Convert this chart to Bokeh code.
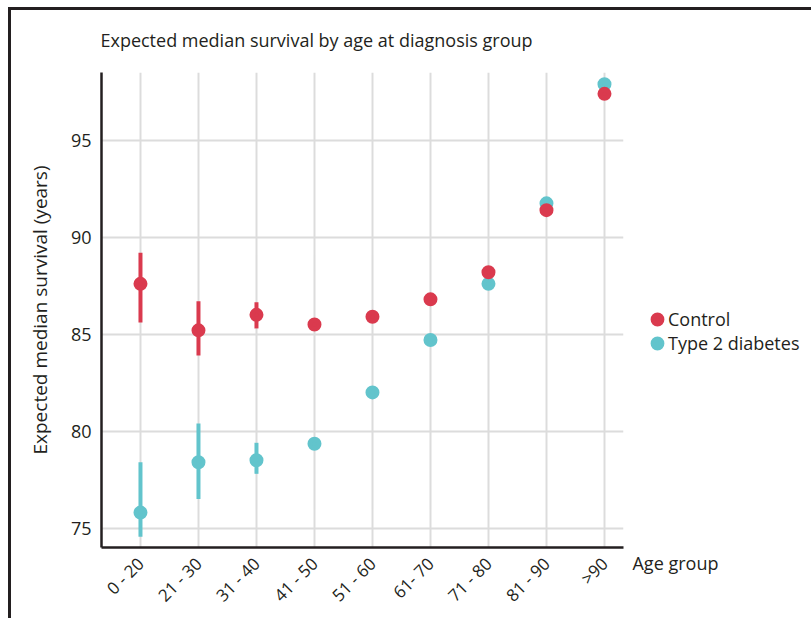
import math
from bokeh.plotting import figure
from bokeh.models import Range1d, FixedTicker, Label, Legend, LegendItem
from bokeh.embed import file_html
from bokeh.resources import INLINE

# ---- data ----
age_groups = ["0 - 20", "21 - 30", "31 - 40", "41 - 50", "51 - 60",
              "61- 70", "71 - 80", "81 - 90", ">90"]
control = [87.6, 85.2, 86.0, 85.5, 85.9, 86.8, 88.2, 91.4, 97.4]
t2d = [75.8, 78.4, 78.5, 79.35, 82.0, 84.7, 87.6, 91.75, 97.9]
# error bars (only first three groups)
control_lower = [85.6, 83.9, 85.3]
control_upper = [89.2, 86.7, 86.65]
t2d_lower = [74.55, 76.5, 77.8]
t2d_upper = [78.4, 80.4, 79.4]
y_ticks = [75, 80, 85, 90, 95]

FONT = "Open Sans"
INK = "#231F20"
RED = "#DA3A4E"
CYAN = "#62C4CC"
GRID = "#DCDCDC"

xs = list(range(len(age_groups)))

p = figure(frame_width=522, frame_height=475,
           x_range=Range1d(-0.672, 8.328), y_range=Range1d(74.0, 98.5),
           output_backend="svg", toolbar_location=None,
           min_border_left=90, min_border_top=62, min_border_right=185,
           min_border_bottom=71)
p.styles = {"margin-left": "8px", "margin-top": "7px",
            "border-top": "3px solid #231F20", "border-left": "3px solid #231F20"}
p.outline_line_color = None
p.background_fill_color = "white"
p.border_fill_color = "white"

# axes
p.xaxis.ticker = FixedTicker(ticks=xs)
p.xaxis.major_label_overrides = {i: lab for i, lab in enumerate(age_groups)}
p.xaxis.major_label_orientation = math.pi / 4
p.yaxis.ticker = FixedTicker(ticks=y_ticks)
for ax in (p.xaxis, p.yaxis):
    ax.axis_line_color = INK
    ax.axis_line_width = 2.5
    ax.major_tick_line_color = None
    ax.minor_tick_line_color = None
    ax.major_tick_out = 0
    ax.major_tick_in = 0
    ax.minor_tick_out = 0
    ax.major_label_text_font = FONT
    ax.major_label_text_color = INK
p.yaxis.major_label_text_font_size = "18px"
p.xaxis.major_label_text_font_size = "17px"
p.yaxis.major_label_standoff = 10
p.xaxis.major_label_standoff = 13
p.yaxis.axis_label = "Expected median survival (years)"
p.yaxis.axis_label_text_font = FONT
p.yaxis.axis_label_text_font_size = "19px"
p.yaxis.axis_label_text_font_style = "normal"
p.yaxis.axis_label_text_color = INK
p.yaxis.axis_label_standoff = 15

p.xgrid.ticker = FixedTicker(ticks=xs)
p.ygrid.ticker = FixedTicker(ticks=y_ticks)
for g in (p.xgrid, p.ygrid):
    g.grid_line_color = GRID
    g.grid_line_width = 2

# type 2 diabetes (drawn first, underneath)
n_err = len(t2d_lower)
p.segment(x0=xs[:n_err], y0=t2d_lower, x1=xs[:n_err], y1=t2d_upper,
          line_color=CYAN, line_width=4)
r_t2d = p.scatter(xs, t2d, size=9, line_width=5, fill_color=CYAN, line_color=CYAN)

# control
p.segment(x0=xs[:n_err], y0=control_lower, x1=xs[:n_err], y1=control_upper,
          line_color=RED, line_width=4)
r_ctrl = p.scatter(xs, control, size=9, line_width=5, fill_color=RED, line_color=RED)

# title and x-axis name (placed in the "above" side panel so they are not clipped)
p.add_layout(Label(x=-0.69, y=100.2, text="Expected median survival by age at diagnosis group",
                   text_baseline="middle", text_font=FONT, text_font_size="18px",
                   text_color=INK), "above")
p.add_layout(Label(x=8.483, y=73.19, text="Age group", text_baseline="middle",
                   text_font=FONT, text_font_size="18px", text_color=INK), "above")

legend = Legend(items=[LegendItem(label="Control", renderers=[r_ctrl]),
                       LegendItem(label="Type 2 diabetes", renderers=[r_t2d])],
                location=(23, 192), glyph_width=22, glyph_height=22,
                spacing=0, label_standoff=0, padding=0, margin=0,
                label_height=22,
                border_line_color=None, background_fill_alpha=0,
                label_text_font=FONT, label_text_font_size="18px",
                label_text_color=INK)
p.add_layout(legend, "right")

open("out.html", "w").write(file_html(p, INLINE))
